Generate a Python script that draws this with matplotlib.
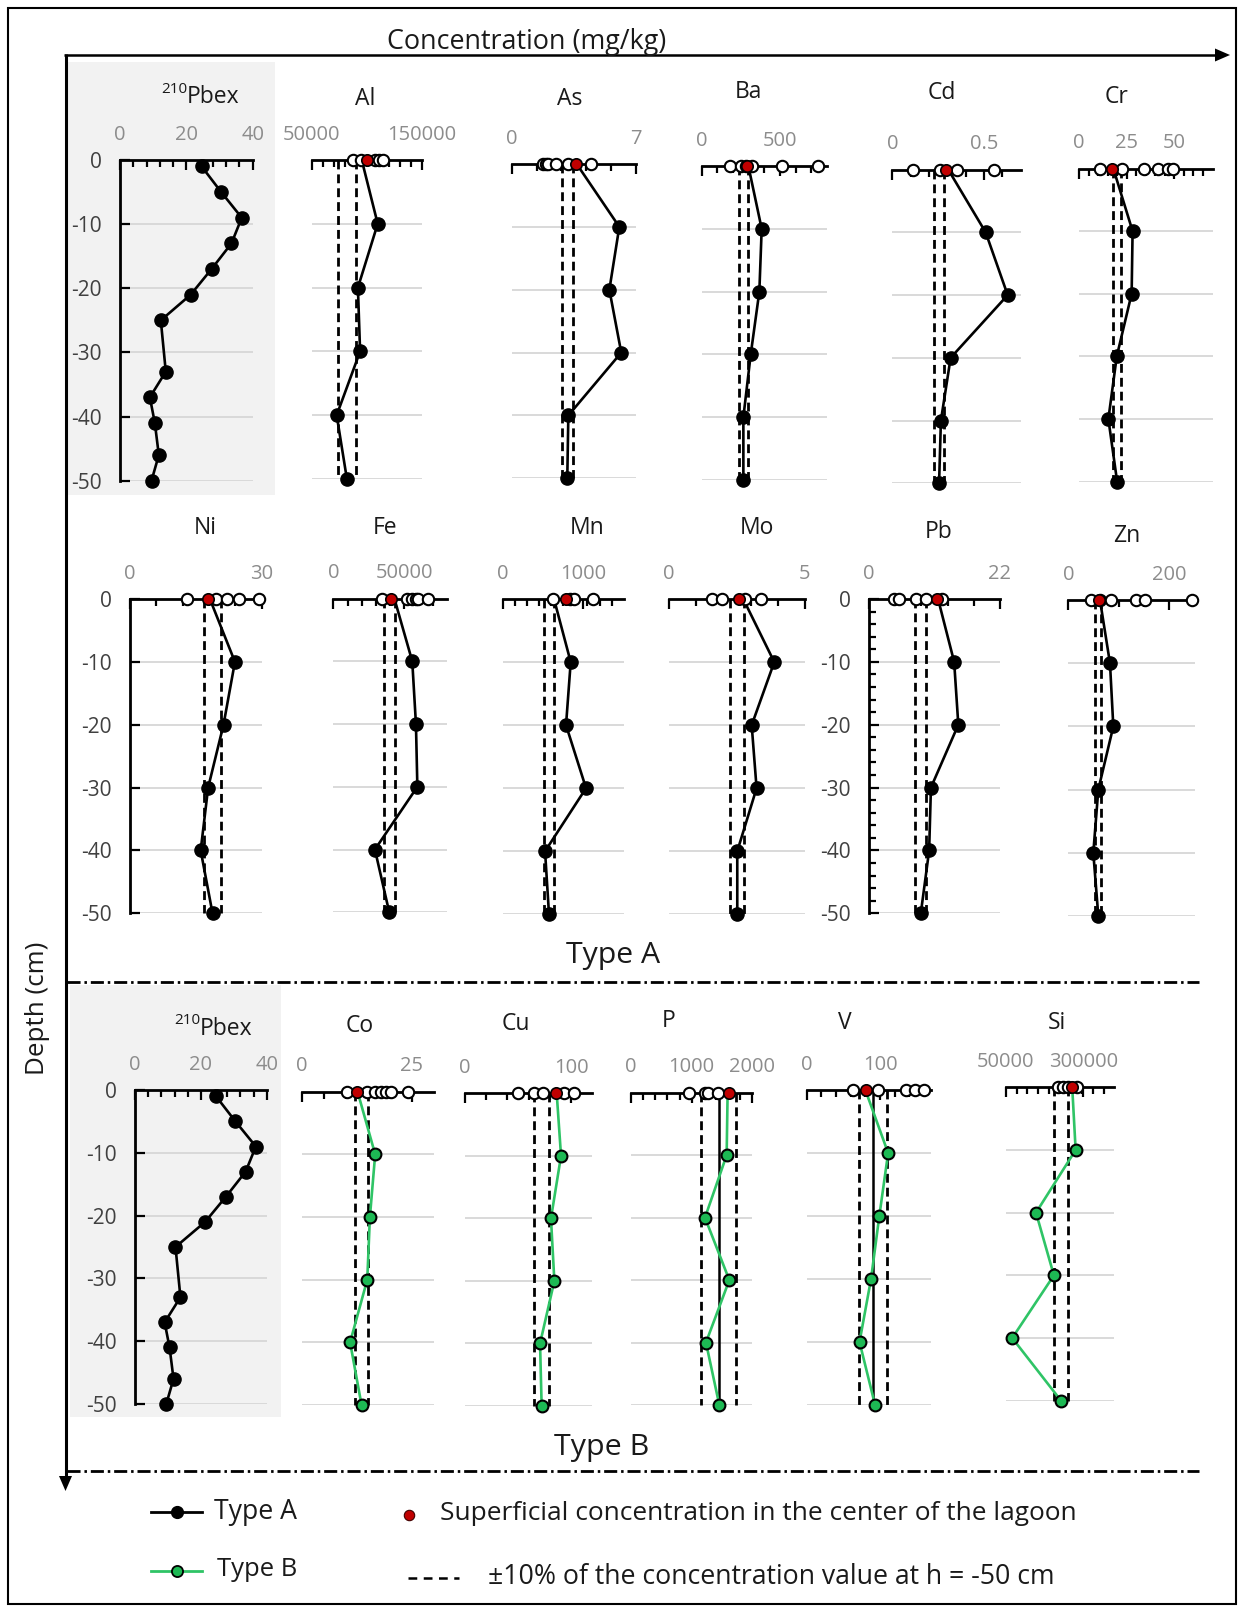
import matplotlib
matplotlib.use('Agg')
import matplotlib.pyplot as plt
from matplotlib.patches import Rectangle, Polygon
from matplotlib.ticker import FixedLocator
import numpy as np

plt.rcParams['font.family'] = ['Open Sans', 'DejaVu Sans']
plt.rcParams['axes.unicode_minus'] = False

# ---------------- data (mg/kg, depth in cm) ----------------
depths = [0, -10, -20, -30, -40, -50]
depth_labels = ['0', '-10', '-20', '-30', '-40', '-50']

pbex_depth = [-1, -5, -9, -13, -17, -21, -25, -33, -37, -41, -46, -50]
pbex_value = [24.6, 30.5, 36.7, 33.6, 27.6, 21.3, 12.3, 13.8, 9.0, 10.5, 11.7, 9.5]

# Type A
al_profile = [95500, 110000, 92000, 94000, 72700, 82000]
al_surface = [87900, 94500, 107600, 111500, 114500]
al_center = 100000
al_band = [73800, 90200]

as_profile = [3.66, 6.06, 5.5, 6.17, 3.19, 3.13]
as_surface = [1.78, 1.95, 2.05, 2.5, 3.19, 4.47]
as_center = 3.6
as_band = [2.82, 3.43]

ba_profile = [298, 383, 368, 313, 266, 266]
ba_surface = [183, 253, 285, 319, 510, 744]
ba_center = 287
ba_band = [239, 293]

cd_profile = [0.305, 0.509, 0.629, 0.318, 0.265, 0.255]
cd_surface = [0.115, 0.26, 0.351, 0.556]
cd_center = 0.293
cd_band = [0.23, 0.28]

cr_profile = [18, 28.1, 27.6, 19.8, 15.4, 20]
cr_surface = [11, 22.4, 34.1, 41.3, 46.9, 49.5]
cr_center = 17.1
cr_band = [18, 22]

ni_profile = [18.2, 23.9, 21.3, 17.8, 16.1, 18.8]
ni_surface = [12.9, 19.7, 22, 24.9, 29.4]
ni_center = 17.7
ni_band = [16.9, 20.7]

fe_profile = [43000, 55600, 58200, 59200, 29300, 39400]
fe_surface = [34000, 51600, 55200, 58200, 59900, 66900]
fe_center = 40600
fe_band = [35500, 43300]

mn_profile = [636, 843, 785, 1033, 525, 574]
mn_surface = [620, 835, 884, 1124]
mn_center = 785
mn_band = [517, 631]

mo_profile = [2.73, 3.87, 3.04, 3.22, 2.51, 2.51]
mo_surface = [1.59, 1.94, 2.79, 3.37]
mo_center = 2.59
mo_band = [2.26, 2.76]

pb_profile = [11.6, 14.3, 15.0, 10.4, 10.1, 8.7]
pb_surface = [4.25, 5.1, 7.9, 9.6, 12.2]
pb_center = 11.4
pb_band = [7.8, 9.6]

zn_profile = [62.7, 82.5, 89.1, 59.4, 49.5, 59.4]
zn_surface = [44.9, 62.7, 83.8, 134, 151.8, 244]
zn_center = 61.4
zn_band = [53.5, 65.3]

# Type B
co_profile = [12.7, 16.7, 15.5, 14.9, 11.0, 13.6]
co_surface = [10.2, 14.8, 16.7, 18.0, 19.2, 20.2, 24.2]
co_center = 12.5
co_band = [12.2, 15.0]

cu_profile = [86.5, 90.6, 81.1, 84.3, 70.8, 72.3]
cu_surface = [50.3, 65.1, 73.3, 93.4, 103.1]
cu_center = 85.8
cu_band = [65.1, 79.5]

p_profile = [1593, 1577, 1220, 1621, 1236, 1456]
p_surface = [962, 1220, 1275, 1440]
p_center = 1621
p_band = [1148, 1725]
p_ref = 1456

v_profile = [80, 111, 99, 87.7, 72, 93.2]
v_surface = [62.7, 96.8, 136, 148, 160]
v_center = 80.8
v_band = [71, 109]
v_ref = 90

si_profile = [264000, 275000, 147500, 205000, 71000, 228000]
si_surface = [219000, 235000, 249000, 278000]
si_center = 264000
si_band = [205000, 251000]

# ---------------- styling ----------------
W, H = 1240, 1609
GRID = '#d9d9d9'
XLAB = '#8c8c8c'
YLAB = '#404040'
TITLE = '#1a1a1a'
GREEN_FILL = '#1db954'
GREEN_LINE = '#2fc466'
RED = '#c00000'

fig = plt.figure(figsize=(W / 100, H / 100), dpi=100)
fig.patch.set_facecolor('white')
renderer = fig.canvas.get_renderer()

bg = fig.add_axes([0, 0, 1, 1], zorder=-5)
bg.set_xlim(0, W)
bg.set_ylim(H, 0)
bg.axis('off')


def fit_text(x, y, s, width, rotation=0, **kw):
    t = bg.text(x, y, s, fontsize=10, **kw)
    w = t.get_window_extent(renderer).width
    t.set_fontsize(10 * width / w)
    if rotation:
        t.set_rotation(rotation)
    return t


# gray backgrounds for 210Pbex charts
bg.add_patch(Rectangle((67, 62), 208, 433, color='#f2f2f2', lw=0))
bg.add_patch(Rectangle((70, 985), 211, 432, color='#f2f2f2', lw=0))
# outer border
bg.add_patch(Rectangle((8, 8), 1228, 1596, fill=False, ec='black', lw=1.5))

# concentration arrow
bg.plot([63.5, 1218], [55, 55], color='black', lw=1.8, solid_capstyle='butt')
bg.add_patch(Polygon([(1215, 48.5), (1230, 55), (1215, 61.5)], closed=True, color='black', lw=0))
fit_text(527, 49, 'Concentration (mg/kg)', 279, ha='center', va='baseline', color=TITLE)

# depth arrow
bg.plot([65.5, 65.5], [54, 1478], color='black', lw=2.2, solid_capstyle='butt')
bg.add_patch(Polygon([(59, 1476), (72, 1476), (65.5, 1491)], closed=True, color='black', lw=0))
fit_text(38, 1008, 'Depth (cm)', 133, rotation=90, ha='center', va='center', color=TITLE)

# separators
for yy in (982, 1471):
    bg.plot([67, 1199], [yy, yy], color='black', lw=2.0, ls=(0, (4.7, 1.4, 0.9, 1.4)))
fit_text(612.8, 955, 'Type A', 94.4, ha='center', va='center', color=TITLE)
fit_text(601.5, 1448, 'Type B', 95, ha='center', va='center', color=TITLE)

# legend
bg.plot([151, 202], [1512, 1512], color='black', lw=2.0)
bg.plot([176.5], [1512], 'o', ms=8.5, mfc='black', mec='black')
fit_text(214, 1512, 'Type A', 83, ha='left', va='center', color=TITLE)
bg.plot([409], [1515], 'o', ms=7.5, mfc=RED, mec='#400000', mew=0.8)
fit_text(440, 1514, 'Superficial concentration in the center of the lagoon', 635,
         ha='left', va='center', color=TITLE)
bg.plot([151, 202], [1570.7, 1570.7], color=GREEN_LINE, lw=2.0)
bg.plot([176.5], [1570.7], 'o', ms=8, mfc=GREEN_FILL, mec='black', mew=1.3)
fit_text(217, 1570, 'Type B', 80, ha='left', va='center', color=TITLE)
bg.plot([407.7, 459], [1577.7, 1577.7], color='black', lw=1.8, ls=(0, (3.5, 2.6)))
fit_text(487.5, 1577, '\u00b110% of the concentration value at h = -50 cm', 567,
         ha='left', va='center', color=TITLE)


def make_panel(xlim, major, labels, minor_step, px, py, yaxis=False, yminor=None):
    x0, x1 = px
    y0, y1 = py
    ax = fig.add_axes([x0 / W, 1 - y1 / H, (x1 - x0) / W, (y1 - y0) / H])
    ax.set_xlim(*xlim)
    ax.set_ylim(-50, 0)
    ax.patch.set_visible(False)
    for s in ('right', 'bottom'):
        ax.spines[s].set_visible(False)
    ax.spines['left'].set_visible(yaxis)
    ax.spines['top'].set_linewidth(2.0)
    ax.spines['left'].set_linewidth(2.0)
    ax.xaxis.set_ticks_position('top')
    ax.xaxis.set_major_locator(FixedLocator(major))
    ax.set_xticklabels(labels)
    minors = np.arange(xlim[0] + minor_step, xlim[1] - minor_step * 0.01, minor_step)
    ax.xaxis.set_minor_locator(FixedLocator(minors))
    ax.tick_params(axis='x', which='both', direction='in', top=True, bottom=False,
                   labeltop=True, labelbottom=False, width=1.6, color='black',
                   labelcolor=XLAB, labelsize=14.5, pad=11)
    ax.tick_params(axis='x', which='major', length=7)
    ax.tick_params(axis='x', which='minor', length=5)
    ax.yaxis.set_major_locator(FixedLocator(depths))
    ax.yaxis.grid(True, color=GRID, lw=1.4)
    ax.set_axisbelow(True)
    if yaxis:
        ax.set_yticklabels(depth_labels)
        ax.tick_params(axis='y', which='major', direction='in', length=7, width=1.6,
                       left=True, labelleft=True, labelsize=15, labelcolor=YLAB, pad=13)
        if yminor:
            ax.yaxis.set_minor_locator(FixedLocator(np.arange(-50, 0, yminor)))
            ax.tick_params(axis='y', which='minor', direction='in', length=5, width=1.6)
    else:
        ax.tick_params(axis='y', which='both', left=False, labelleft=False)
    return ax


def pbex_panel(px, py):
    ax = make_panel((0, 40), [0, 20, 40], ['0', '20', '40'], 4, px, py, yaxis=True)
    ax.plot(pbex_value, pbex_depth, '-o', color='black', lw=1.9, ms=9.5,
            mfc='black', mec='black', clip_on=False, zorder=4)
    return ax


def element(ax, profile, surface, center, band, typ='A', ref=None):
    for b in band:
        ax.plot([b, b], [0, -50], color='black', lw=2.0, ls=(0, (3.2, 1.8)), zorder=2, clip_on=False)
    if ref is not None:
        ax.plot([ref, ref], [0, -50], color='black', lw=1.8, zorder=2.2, clip_on=False)
    if typ == 'A':
        ax.plot(profile, depths, '-', color='black', lw=1.9, zorder=3, clip_on=False)
        ax.plot(profile[1:], depths[1:], 'o', ms=9.5, mfc='black', mec='black',
                zorder=4, clip_on=False)
    else:
        ax.plot(profile, depths, '-', color=GREEN_LINE, lw=1.9, zorder=3, clip_on=False)
        ax.plot(profile[1:], depths[1:], 'o', ms=8.5, mfc=GREEN_FILL, mec='black', mew=1.5,
                zorder=4, clip_on=False)
    ax.plot(surface, [0] * len(surface), 'o', ms=8.2, mfc='white', mec='black', mew=1.5,
            zorder=5, clip_on=False)
    ax.plot([center], [0], 'o', ms=8.2, mfc=RED, mec='black', mew=1.2, zorder=6, clip_on=False)


def title(x, y, s):
    bg.text(x, y, s, ha='center', va='center', fontsize=16.5, color=TITLE)


def pbex_title(x, y):
    bg.text(x, y, 'Pbex', ha='left', va='center', fontsize=16.5, color=TITLE)
    bg.text(x, y - 8, '210', ha='right', va='center', fontsize=11, color=TITLE)


# ---------------- top row (Type A) ----------------
pbex_panel((120, 252.7), (160, 480.7))
pbex_title(187, 97)

ax = make_panel((50000, 150000), [50000, 150000], ['50000', '150000'], 10000, (311.7, 421.7), (160, 479))
element(ax, al_profile, al_surface, al_center, al_band)
title(365, 99, 'Al')

ax = make_panel((0, 7), [0, 7], ['0', '7'], 1.4, (511.7, 636), (164, 478.3))
element(ax, as_profile, as_surface, as_center, as_band)
title(570, 99, 'As')

ax = make_panel((0, 800), [0, 500], ['0', '500'], 100, (701.7, 827), (166, 480))
element(ax, ba_profile, ba_surface, ba_center, ba_band)
title(748, 92, 'Ba')

ax = make_panel((0, 0.7), [0, 0.5], ['0', '0.5'], 0.1, (892.3, 1020.7), (169.6, 483.3))
element(ax, cd_profile, cd_surface, cd_center, cd_band)
title(941.7, 93, 'Cd')

ax = make_panel((0, 70), [0, 25, 50], ['0', '25', '50'], 5, (1079, 1212.5), (168.5, 481.7))
element(ax, cr_profile, cr_surface, cr_center, cr_band)
title(1116.7, 97, 'Cr')

# ---------------- middle row (Type A) ----------------
ax = make_panel((0, 30), [0, 30], ['0', '30'], 6, (130, 261.7), (599, 913.3), yaxis=True)
element(ax, ni_profile, ni_surface, ni_center, ni_band)
title(205, 528, 'Ni')

ax = make_panel((0, 80000), [0, 50000], ['0', '50000'], 10000, (333.3, 446.9), (598.5, 912.3))
element(ax, fe_profile, fe_surface, fe_center, fe_band)
title(385, 528, 'Fe')

ax = make_panel((0, 1500), [0, 1000], ['0', '1000'], 150, (502.7, 623.7), (599, 914.3))
element(ax, mn_profile, mn_surface, mn_center, mn_band)
title(587.3, 528, 'Mn')

ax = make_panel((0, 5), [0, 5], ['0', '5'], 1, (669, 805), (599, 914.3))
element(ax, mo_profile, mo_surface, mo_center, mo_band)
title(756.7, 528, 'Mo')

ax = make_panel((0, 22), [0, 22], ['0', '22'], 4.4, (869, 1000), (599, 913.3), yaxis=True, yminor=2)
element(ax, pb_profile, pb_surface, pb_center, pb_band)
title(939, 531.7, 'Pb')

ax = make_panel((0, 250), [0, 200], ['0', '200'], 50, (1068.3, 1194.6), (600, 916))
element(ax, zn_profile, zn_surface, zn_center, zn_band)
title(1126.7, 536, 'Zn')

# ---------------- bottom row (Type B) ----------------
pbex_panel((135, 266.7), (1090, 1404))
pbex_title(200, 1029)

ax = make_panel((0, 30), [0, 25], ['0', '25'], 5, (301.7, 433.7), (1091.7, 1405))
element(ax, co_profile, co_surface, co_center, co_band, typ='B')
title(360, 1026, 'Co')

ax = make_panel((0, 120), [0, 100], ['0', '100'], 20, (465, 592.2), (1093.3, 1406))
element(ax, cu_profile, cu_surface, cu_center, cu_band, typ='B')
title(516, 1024, 'Cu')

ax = make_panel((0, 2000), [0, 1000, 2000], ['0', '1000', '2000'], 200, (631, 752.3), (1092.7, 1405))
element(ax, p_profile, p_surface, p_center, p_band, typ='B', ref=p_ref)
title(668.3, 1020.7, 'P')

ax = make_panel((0, 170), [0, 100], ['0', '100'], 20, (806.7, 931.4), (1090, 1405))
element(ax, v_profile, v_surface, v_center, v_band, typ='B', ref=v_ref)
title(845, 1023.3, 'V')

ax = make_panel((50000, 400000), [50000, 300000], ['50000', '300000'], 35000, (1005.7, 1114.5), (1087.3, 1400.7))
element(ax, si_profile, si_surface, si_center, si_band, typ='B')
title(1057.3, 1023.3, 'Si')

fig.savefig('out.png', dpi=100, facecolor='white')
